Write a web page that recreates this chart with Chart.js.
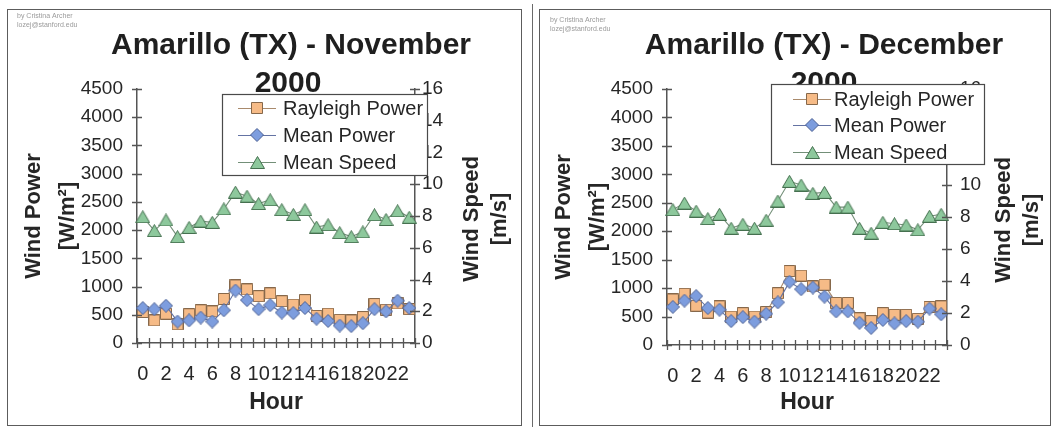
<!DOCTYPE html>
<html>
<head>
<meta charset="utf-8">
<script src="https://cdn.jsdelivr.net/npm/chart.js@4.4.1/dist/chart.umd.min.js"></script>
<style>
  html, body { margin: 0; padding: 0; background: #fff; width: 1056px; height: 427px; overflow: hidden; }
  canvas { position: absolute; top: 0; }
  .frame { position: absolute; box-sizing: border-box; border: 1.5px solid #5c5c5c; pointer-events: none; }
  .rule { position: absolute; width: 0; border-left: 1.5px solid #6a6a6a; pointer-events: none; }
</style>
</head>
<body>
<canvas id="nov" width="528" height="427" style="left:0"></canvas>
<canvas id="dec" width="528" height="427" style="left:528px"></canvas>
<div class="frame" style="left:7px; top:9px; width:515px; height:417px"></div>
<div class="rule" style="left:532px; top:4px; height:423px"></div>
<div class="frame" style="left:539px; top:9px; width:512px; height:417px"></div>
<script>
// Hour of day categories and which labels get printed on the axis
const hourLabels = ['0','1','2','3','4','5','6','7','8','9','10','11','12','13','14','15','16','17','18','19','20','21','22','23'];
const hourLabelEvery = 2;

// Axis ranges
const powerMin = 0, powerMax = 4500, powerStep = 500;   // W/m²
const speedMin = 0, speedMax = 16, speedStep = 2;       // m/s

// Amarillo (TX), November 2000
const novRayleighPower = [550, 400, 520, 330, 510, 580, 560, 780, 1020, 950, 830, 880, 740, 680, 760, 480, 520, 410, 400, 460, 690, 590, 700, 600];
const novMeanPower     = [620, 600, 660, 380, 400, 450, 380, 580, 930, 760, 600, 670, 540, 530, 620, 430, 390, 310, 300, 350, 600, 560, 750, 620];
const novMeanSpeed     = [7.95, 7.08, 7.75, 6.7, 7.28, 7.68, 7.6, 8.45, 9.5, 9.25, 8.78, 9.02, 8.4, 8.1, 8.4, 7.3, 7.45, 6.95, 6.7, 7.0, 8.08, 7.78, 8.33, 7.92];

// Amarillo (TX), December 2000
const decRayleighPower = [800, 900, 690, 570, 680, 500, 560, 500, 580, 910, 1300, 1220, 1030, 1060, 740, 740, 470, 420, 560, 530, 530, 460, 670, 680];
const decMeanPower     = [670, 780, 860, 650, 620, 420, 490, 410, 550, 750, 1110, 980, 1010, 850, 590, 590, 390, 300, 440, 380, 420, 410, 640, 540];
const decMeanSpeed     = [8.46, 8.87, 8.37, 7.9, 8.17, 7.3, 7.55, 7.3, 7.8, 9.0, 10.23, 10.0, 9.48, 9.54, 8.62, 8.62, 7.3, 6.99, 7.67, 7.58, 7.5, 7.2, 8.05, 8.17];

const seriesNames = ['Rayleigh Power', 'Mean Power', 'Mean Speed'];

const FONT = '"Liberation Sans", Arial, sans-serif';
const TEXT = '#262626';
const AXIS = '#555555';

// Marker bitmaps: bounding-box centred, Excel-like shapes
function makeMarker(shape, w, h, fill, stroke) {
  const c = document.createElement('canvas');
  c.width = w; c.height = h;
  const g = c.getContext('2d');
  g.fillStyle = fill; g.strokeStyle = stroke; g.lineWidth = 1;
  g.beginPath();
  if (shape === 'square') {
    g.rect(0.5, 0.5, w - 1, h - 1);
  } else if (shape === 'diamond') {
    g.moveTo(w / 2, 0.5); g.lineTo(w - 0.5, h / 2); g.lineTo(w / 2, h - 0.5); g.lineTo(0.5, h / 2); g.closePath();
  } else {
    g.moveTo(w / 2, 0.5); g.lineTo(w - 0.5, h - 0.5); g.lineTo(0.5, h - 0.5); g.closePath();
  }
  g.fill(); g.stroke();
  return c;
}

const styles = [
  { marker: makeMarker('square', 12, 12, '#F6BB87', '#86684B'), line: '#A98A6C' },
  { marker: makeMarker('diamond', 14, 14, '#7D9DDE', '#4D6193'), line: '#6473A3' },
  { marker: makeMarker('triangle', 15, 13, '#8DC89C', '#45704F'), line: '#738F78' }
];

// Titles, axis titles, crossing tick marks and the boxed legend
const decor = {
  id: 'decor',
  afterDraw(chart, args, o) {
    const ctx = chart.ctx;
    const a = chart.chartArea;
    const sx = chart.scales.x, sy = chart.scales.y, sy1 = chart.scales.y1;
    ctx.save();

    // tick marks that cross the axis lines
    ctx.strokeStyle = AXIS; ctx.lineWidth = 1.3;
    ctx.beginPath();
    sy.ticks.forEach(t => {
      const y = Math.round(sy.getPixelForValue(t.value)) + 0.5;
      ctx.moveTo(a.left - 5, y); ctx.lineTo(a.left + 5, y);
    });
    sy1.ticks.forEach(t => {
      const y = Math.round(sy1.getPixelForValue(t.value)) + 0.5;
      ctx.moveTo(a.right - 5, y); ctx.lineTo(a.right + 5, y);
    });
    const n = chart.data.labels.length;
    const step = sx.getPixelForValue(1) - sx.getPixelForValue(0);
    for (let i = 0; i <= n; i++) {
      const x = Math.round(sx.getPixelForValue(0) - step / 2 + i * step) + 0.5;
      ctx.moveTo(x, a.bottom - 5); ctx.lineTo(x, a.bottom + 5);
    }
    ctx.stroke();

    // author credit
    ctx.fillStyle = '#9a9a9a';
    ctx.font = '7px ' + FONT;
    ctx.textAlign = 'left'; ctx.textBaseline = 'middle';
    ctx.fillText('by Cristina Archer', o.creditX, o.creditY);
    ctx.fillText('lozej@stanford.edu', o.creditX, o.creditY + 9);

    // chart title (two lines)
    ctx.fillStyle = '#1f1f1f';
    ctx.font = 'bold 30px ' + FONT;
    ctx.textAlign = 'center'; ctx.textBaseline = 'alphabetic';
    ctx.fillText(o.title[0], o.titleX, 54);
    ctx.fillText(o.title[1], o.titleX2, 92);

    // axis titles
    const midY = (a.top + a.bottom) / 2;
    ctx.fillStyle = TEXT;
    ctx.font = 'bold 22px ' + FONT;
    ctx.textBaseline = 'middle';
    const vtext = (txt, x, y) => {
      ctx.save(); ctx.translate(x, y); ctx.rotate(-Math.PI / 2);
      ctx.fillText(txt, 0, 0); ctx.restore();
    };
    vtext('Wind Power', a.left - 103, midY);
    vtext('[W/m²]', a.left - 69, midY);
    vtext('Wind Speed', a.right + 57, midY + 3);
    vtext('[m/s]', a.right + 85, midY + 3);
    ctx.font = 'bold 23px ' + FONT;
    ctx.textBaseline = 'alphabetic';
    ctx.fillText('Hour', (a.left + a.right) / 2, 409);

    // legend box
    const L = o.legend;
    ctx.fillStyle = '#ffffff';
    ctx.fillRect(L.x, L.y, L.w, L.h);
    ctx.strokeStyle = '#4a4a4a'; ctx.lineWidth = 1.2;
    ctx.strokeRect(L.x + 0.5, L.y + 0.5, L.w, L.h);
    ctx.font = '20px ' + FONT;
    ctx.textAlign = 'left'; ctx.textBaseline = 'middle';
    chart.data.datasets.forEach((ds, i) => {
      const y = L.rowY[i];
      const st = styles[i];
      ctx.strokeStyle = st.line; ctx.lineWidth = 1.2;
      ctx.beginPath(); ctx.moveTo(L.markX - 19, y + 0.5); ctx.lineTo(L.markX + 19, y + 0.5); ctx.stroke();
      ctx.drawImage(st.marker, Math.round(L.markX - st.marker.width / 2), Math.round(y - st.marker.height / 2));
      ctx.fillStyle = TEXT;
      ctx.fillText(ds.label, L.textX, y + 1);
    });
    ctx.restore();
  }
};

const plainNumber = v => String(v);

function buildChart(id, rayleigh, meanPower, meanSpeed, geo) {
  const mk = (label, data, axis, i, order) => ({
    label, data, yAxisID: axis, order,
    borderColor: styles[i].line, borderWidth: 1.1,
    pointStyle: styles[i].marker, pointRadius: 7, pointHoverRadius: 7,
    backgroundColor: 'transparent', tension: 0, fill: false
  });
  return new Chart(document.getElementById(id), {
    type: 'line',
    data: {
      labels: hourLabels,
      datasets: [
        mk(seriesNames[0], rayleigh, 'y', 0, 3),
        mk(seriesNames[1], meanPower, 'y', 1, 1),
        mk(seriesNames[2], meanSpeed, 'y1', 2, 2)
      ]
    },
    options: {
      responsive: false,
      animation: false,
      devicePixelRatio: 1,
      events: [],
      layout: { padding: { top: geo.top, left: 0, right: 0, bottom: 0 } },
      plugins: {
        legend: { display: false },
        title: { display: false },
        tooltip: { enabled: false },
        decor: geo.decor
      },
      scales: {
        x: {
          type: 'category', offset: true,
          grid: { display: false, drawTicks: false, offset: true },
          border: { display: true, color: AXIS, width: 1.5 },
          ticks: {
            autoSkip: false, maxRotation: 0, minRotation: 0, padding: 19,
            color: TEXT, font: { family: FONT, size: 20 },
            callback(value, index) { return index % hourLabelEvery === 0 ? this.getLabelForValue(value) : ''; }
          },
          afterFit(s) { s.height = geo.xH; }
        },
        y: {
          position: 'left', min: powerMin, max: powerMax,
          grid: { display: false, drawTicks: false },
          border: { display: true, color: AXIS, width: 1.5 },
          ticks: { stepSize: powerStep, padding: 14, color: TEXT, font: { family: FONT, size: 19 }, callback: plainNumber },
          afterFit(s) { s.width = geo.yW; }
        },
        y1: {
          position: 'right', min: speedMin, max: speedMax,
          grid: { display: false, drawTicks: false },
          border: { display: true, color: AXIS, width: 1.5 },
          ticks: { stepSize: speedStep, padding: geo.y1Pad, color: TEXT, font: { family: FONT, size: 19 }, callback: plainNumber },
          afterFit(s) { s.width = geo.y1W; }
        }
      }
    },
    plugins: [decor]
  });
}

buildChart('nov', novRayleighPower, novMeanPower, novMeanSpeed, {
  top: 89, yW: 137, y1W: 113, xH: 84, y1Pad: 7,
  decor: {
    title: ['Amarillo (TX) - November', '2000'], titleX: 291, titleX2: 288,
    creditX: 17, creditY: 16,
    legend: { x: 222, y: 94, w: 205, h: 81, rowY: [108, 135, 162], markX: 257, textX: 283 }
  }
});

buildChart('dec', decRayleighPower, decMeanPower, decMeanSpeed, {
  top: 89, yW: 139, y1W: 109, xH: 82, y1Pad: 13,
  decor: {
    title: ['Amarillo (TX) - December', '2000'], titleX: 296, titleX2: 296,
    creditX: 22, creditY: 20,
    legend: { x: 243, y: 84, w: 213, h: 80, rowY: [99, 125, 152], markX: 284, textX: 306 }
  }
});
</script>
</body>
</html>
